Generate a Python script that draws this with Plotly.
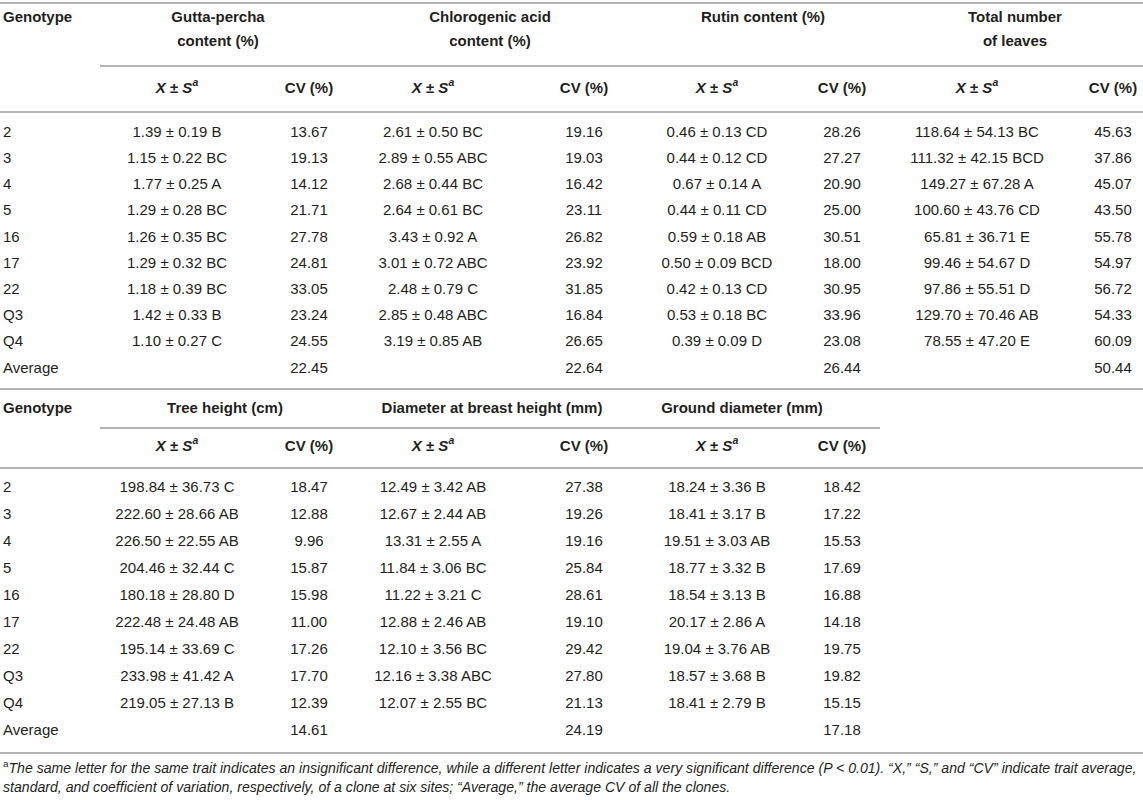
import plotly.graph_objects as go

# ---------- data ----------
genotypes = ["2", "3", "4", "5", "16", "17", "22", "Q3", "Q4"]

gutta_mean = [1.39, 1.15, 1.77, 1.29, 1.26, 1.29, 1.18, 1.42, 1.10]
gutta_sd = [0.19, 0.22, 0.25, 0.28, 0.35, 0.32, 0.39, 0.33, 0.27]
gutta_letter = ["B", "BC", "A", "BC", "BC", "BC", "BC", "B", "C"]
gutta_cv = [13.67, 19.13, 14.12, 21.71, 27.78, 24.81, 33.05, 23.24, 24.55]
gutta_avg = 22.45

chloro_mean = [2.61, 2.89, 2.68, 2.64, 3.43, 3.01, 2.48, 2.85, 3.19]
chloro_sd = [0.50, 0.55, 0.44, 0.61, 0.92, 0.72, 0.79, 0.48, 0.85]
chloro_letter = ["BC", "ABC", "BC", "BC", "A", "ABC", "C", "ABC", "AB"]
chloro_cv = [19.16, 19.03, 16.42, 23.11, 26.82, 23.92, 31.85, 16.84, 26.65]
chloro_avg = 22.64

rutin_mean = [0.46, 0.44, 0.67, 0.44, 0.59, 0.50, 0.42, 0.53, 0.39]
rutin_sd = [0.13, 0.12, 0.14, 0.11, 0.18, 0.09, 0.13, 0.18, 0.09]
rutin_letter = ["CD", "CD", "A", "CD", "AB", "BCD", "CD", "BC", "D"]
rutin_cv = [28.26, 27.27, 20.90, 25.00, 30.51, 18.00, 30.95, 33.96, 23.08]
rutin_avg = 26.44

leaves_mean = [118.64, 111.32, 149.27, 100.60, 65.81, 99.46, 97.86, 129.70, 78.55]
leaves_sd = [54.13, 42.15, 67.28, 43.76, 36.71, 54.67, 55.51, 70.46, 47.20]
leaves_letter = ["BC", "BCD", "A", "CD", "E", "D", "D", "AB", "E"]
leaves_cv = [45.63, 37.86, 45.07, 43.50, 55.78, 54.97, 56.72, 54.33, 60.09]
leaves_avg = 50.44

tree_mean = [198.84, 222.60, 226.50, 204.46, 180.18, 222.48, 195.14, 233.98, 219.05]
tree_sd = [36.73, 28.66, 22.55, 32.44, 28.80, 24.48, 33.69, 41.42, 27.13]
tree_letter = ["C", "AB", "AB", "C", "D", "AB", "C", "A", "B"]
tree_cv = [18.47, 12.88, 9.96, 15.87, 15.98, 11.00, 17.26, 17.70, 12.39]
tree_avg = 14.61

dbh_mean = [12.49, 12.67, 13.31, 11.84, 11.22, 12.88, 12.10, 12.16, 12.07]
dbh_sd = [3.42, 2.44, 2.55, 3.06, 3.21, 2.46, 3.56, 3.38, 2.55]
dbh_letter = ["AB", "AB", "A", "BC", "C", "AB", "BC", "ABC", "BC"]
dbh_cv = [27.38, 19.26, 19.16, 25.84, 28.61, 19.10, 29.42, 27.80, 21.13]
dbh_avg = 24.19

ground_mean = [18.24, 18.41, 19.51, 18.77, 18.54, 20.17, 19.04, 18.57, 18.41]
ground_sd = [3.36, 3.17, 3.03, 3.32, 3.13, 2.86, 3.76, 3.68, 2.79]
ground_letter = ["B", "B", "AB", "B", "B", "A", "AB", "B", "B"]
ground_cv = [18.42, 17.22, 15.53, 17.69, 16.88, 14.18, 19.75, 19.82, 15.15]
ground_avg = 17.18

block1_titles = [["Gutta-percha", "content (%)"], ["Chlorogenic acid", "content (%)"],
                 ["Rutin content (%)"], ["Total number", "of leaves"]]
block2_titles = ["Tree height (cm)", "Diameter at breast height (mm)", "Ground diameter (mm)"]

footnote = [
    "<sup>a</sup><i>The same letter for the same trait indicates an insignificant difference, while a different "
    "letter indicates a very significant difference (P &lt; 0.01). \u201cX,\u201d \u201cS,\u201d and "
    "\u201cCV\u201d indicate trait average,</i>",
    "<i>standard, and coefficient of variation, respectively, of a clone at six sites; \u201cAverage,\u201d the "
    "average CV of all the clones.</i>",
]

# ---------- layout constants ----------
W, H = 1143, 800
FONT = "Liberation Sans, Arial, sans-serif"
INK = "#231f20"
RULE = "#b4b4b4"
FS = 15

# column centres (x positions) shared by both blocks
mean_x = [177, 433, 717, 977]
cv_x = [309, 584, 842, 1113]
grp1_x = [218, 490, 763, 1015]
grp2_x = [225, 492, 742]

# block 1 rows
b1_title_y = [18, 42]
b1_sub_y = 89
b1_row0, b1_dy = 133, 26.2
# block 2 rows
b2_title_y = 409
b2_sub_y = 447
b2_row0, b2_dy = 488, 27.0

fig = go.Figure()


def add_text(xs, ys, texts, pos="middle center", bold=False, size=FS):
    if bold:
        texts = [f"<b>{t}</b>" for t in texts]
    fig.add_trace(go.Scatter(
        x=xs, y=ys, text=texts, mode="text", textposition=pos,
        textfont=dict(family=FONT, size=size, color=INK),
        hoverinfo="skip", showlegend=False, cliponaxis=False,
    ))


def fmt_ms(means, sds, letters):
    return [f"{m:.2f} \u00b1 {s:.2f} {l}" for m, s, l in zip(means, sds, letters)]


XS_HDR = "<i>X</i> \u00b1 <i>S</i><sup><i>a</i></sup>"


def add_block(groups, titles, title_ys, grp_x, sub_y, row0, dy, avgs):
    n = len(genotypes)
    row_y = [row0 + i * dy for i in range(n + 1)]
    # genotype column
    add_text([3], [title_ys[0]], ["Genotype"], pos="middle right", bold=True)
    add_text([3] * (n + 1), row_y, genotypes + ["Average"], pos="middle right")
    for k, (means, sds, letters, cvs) in enumerate(groups):
        for j, line in enumerate(titles[k]):
            add_text([grp_x[k]], [title_ys[j]], [line], bold=True)
        add_text([mean_x[k]], [sub_y], [XS_HDR], bold=True)
        add_text([cv_x[k]], [sub_y], ["CV (%)"], bold=True)
        add_text([mean_x[k]] * n, row_y[:n], fmt_ms(means, sds, letters))
        add_text([cv_x[k]] * (n + 1), row_y, [f"{v:.2f}" for v in cvs] + [f"{avgs[k]:.2f}"])
    return row_y


add_block(
    [(gutta_mean, gutta_sd, gutta_letter, gutta_cv),
     (chloro_mean, chloro_sd, chloro_letter, chloro_cv),
     (rutin_mean, rutin_sd, rutin_letter, rutin_cv),
     (leaves_mean, leaves_sd, leaves_letter, leaves_cv)],
    block1_titles, b1_title_y, grp1_x, b1_sub_y, b1_row0, b1_dy,
    [gutta_avg, chloro_avg, rutin_avg, leaves_avg],
)
add_block(
    [(tree_mean, tree_sd, tree_letter, tree_cv),
     (dbh_mean, dbh_sd, dbh_letter, dbh_cv),
     (ground_mean, ground_sd, ground_letter, ground_cv)],
    [[t] for t in block2_titles], [b2_title_y], grp2_x, b2_sub_y, b2_row0, b2_dy,
    [tree_avg, dbh_avg, ground_avg],
)

# footnote
add_text([3, 3], [769, 788], footnote, pos="middle right", size=14.1)

# horizontal rules
rules = [(0, W, 3), (100, W, 66), (0, W, 112), (0, W, 389),
         (100, 880, 428), (0, W, 468), (0, W, 753)]
for x0, x1, y in rules:
    fig.add_shape(type="line", x0=x0, x1=x1, y0=y, y1=y, xref="x", yref="y",
                  line=dict(color=RULE, width=2))

fig.update_layout(
    width=W, height=H,
    margin=dict(l=0, r=0, t=0, b=0),
    paper_bgcolor="white", plot_bgcolor="white",
    xaxis=dict(range=[0, W], visible=False, fixedrange=True),
    yaxis=dict(range=[H, 0], visible=False, fixedrange=True),
)

# drop the browser's default 8px body margin so the figure sits at the page corner
fig.write_html("out.html", config={"displayModeBar": False},
               post_script="document.body.style.margin='0';")
